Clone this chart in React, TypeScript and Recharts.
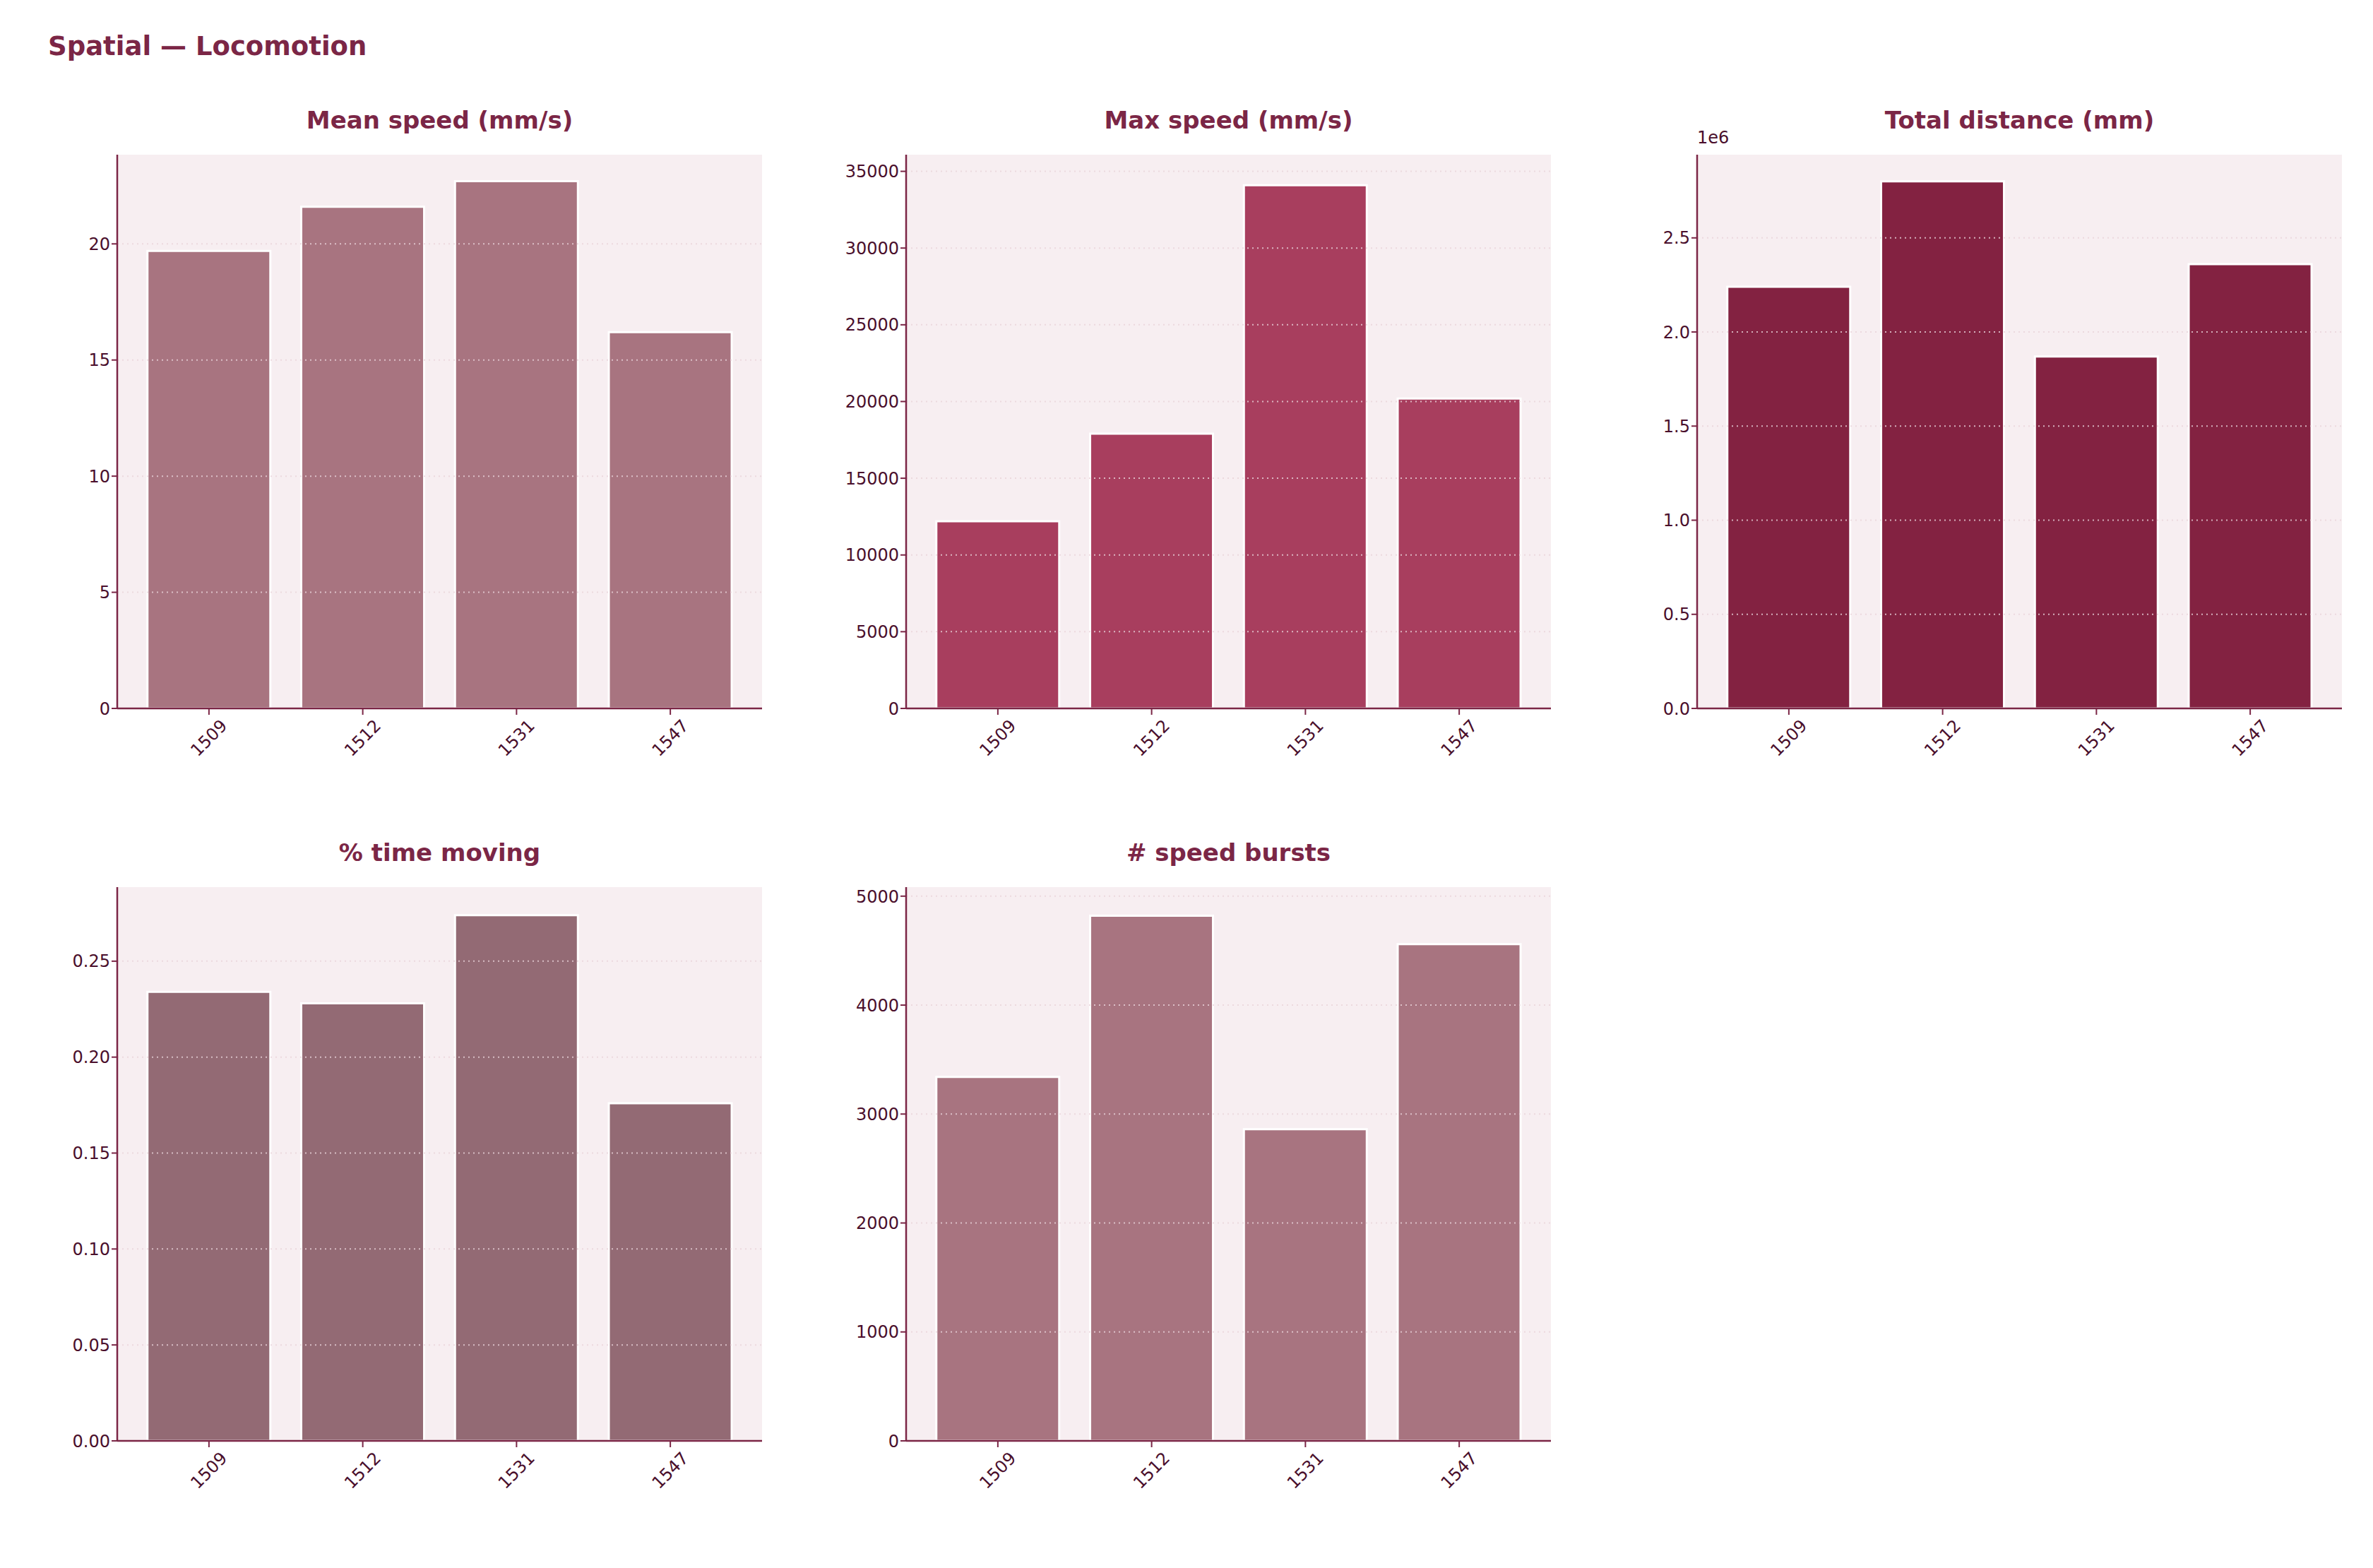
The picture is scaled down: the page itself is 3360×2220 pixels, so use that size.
import React from "react";
import { BarChart, Bar, XAxis, YAxis, CartesianGrid, ReferenceLine } from "recharts";

const categories = ["1509", "1512", "1531", "1547"];
const meanSpeed = [19.7, 21.6, 22.7, 16.2];
const maxSpeed = [12200, 17900, 34100, 20200];
const totalDistance = [2.24, 2.8, 1.87, 2.36]; // x1e6
const timeMoving = [0.234, 0.228, 0.274, 0.176];
const speedBursts = [3340, 4820, 2860, 4560];

const meanTicks = [0, 5, 10, 15, 20];
const maxTicks = [0, 5000, 10000, 15000, 20000, 25000, 30000, 35000];
const distTicks = [0, 0.5, 1.0, 1.5, 2.0, 2.5];
const timeTicks = [0, 0.05, 0.1, 0.15, 0.2, 0.25];
const burstTicks = [0, 1000, 2000, 3000, 4000, 5000];

const FONT = "'DejaVu Sans', sans-serif";
const TITLE = "#7b2646";
const TEXT = "#4a0f2c";
const BG = "#f7eef1";

type P = {
  title: string; values: number[]; ticks: number[]; max: number; color: string;
  left: number; top: number; fmt: (v: number) => string; offsetText?: string;
};

const YW = 130;
const PW = 913;
const PH = 784;

const XTick = (props: any) => {
  const { x, y, payload } = props;
  return (
    <g>
      <line x1={x} x2={x} y1={y - 8} y2={y + 1} stroke={TITLE} strokeWidth={2} />
      <text x={x} y={y + 42} textAnchor="middle" fill={TEXT} fontSize={24} fontFamily={FONT}
        transform={`rotate(-45 ${x} ${y + 34})`}>{payload.value}</text>
    </g>
  );
};

function Panel({ title, values, ticks, max, color, left, top, fmt, offsetText }: P) {
  const data = categories.map((c, i) => ({ c, v: values[i] }));
  return (
    <div style={{ position: "absolute", left: left - YW, top: top - 60 }}>
      <div style={{ position: "absolute", left: YW, width: PW, top: 0, textAlign: "center",
        fontFamily: FONT, fontWeight: "bold", fontSize: 34, color: TITLE, lineHeight: "34px", marginTop: -6 }}>{title}</div>
      {offsetText && (
        <div style={{ position: "absolute", left: YW, top: 22, fontFamily: FONT, fontSize: 24, color: TEXT }}>{offsetText}</div>
      )}
      <div style={{ position: "absolute", top: 60 }}>
        <BarChart width={YW + PW + 4} height={PH + 150} data={data}
          margin={{ top: 0, right: 4, left: 0, bottom: 0 }} barCategoryGap="10%">
          <CartesianGrid fill={BG} stroke="none" vertical={false} horizontal={false} />
          <XAxis dataKey="c" height={150} padding={{ left: 21, right: 21 }} tick={<XTick />}
            tickLine={false} axisLine={{ stroke: TITLE, strokeWidth: 2.5 }} interval={0} />
          <YAxis width={YW} domain={[0, max]} ticks={ticks} tickFormatter={fmt} allowDataOverflow
            tick={{ fill: TEXT, fontSize: 24, fontFamily: FONT }} tickSize={8}
            tickLine={{ stroke: TITLE, strokeWidth: 2 }} axisLine={{ stroke: TITLE, strokeWidth: 2.5 }} />
          <Bar dataKey="v" fill={color} stroke="#ffffff" strokeWidth={3} isAnimationActive={false} />
          {ticks.filter((t) => t > 0).map((t) => (
            <ReferenceLine key={t} y={t} stroke="#e9d3da" strokeOpacity={0.8} strokeWidth={2} strokeDasharray="2 5" />
          ))}
        </BarChart>
      </div>
    </div>
  );
}

export default function App() {
  return (
    <div style={{ position: "absolute", left: 0, top: 0, width: 3360, height: 2220, background: "#fff" }}>
      <div style={{ position: "absolute", left: 68, top: 44, fontFamily: FONT, fontWeight: "bold", fontSize: 37, color: TITLE }}>
        Spatial — Locomotion
      </div>
      <Panel title="Mean speed (mm/s)" values={meanSpeed} ticks={meanTicks} max={23.84} color="#a87480"
        left={166} top={219} fmt={(v) => String(v)} />
      <Panel title="Max speed (mm/s)" values={maxSpeed} ticks={maxTicks} max={36085} color="#a83e5e"
        left={1283} top={219} fmt={(v) => String(v)} />
      <Panel title="Total distance (mm)" values={totalDistance} ticks={distTicks} max={2.942} color="#832241"
        left={2403} top={219} fmt={(v) => v.toFixed(1)} offsetText="1e6" />
      <Panel title="% time moving" values={timeMoving} ticks={timeTicks} max={0.2886} color="#936a74"
        left={166} top={1256} fmt={(v) => v.toFixed(2)} />
      <Panel title="# speed bursts" values={speedBursts} ticks={burstTicks} max={5083} color="#a87480"
        left={1283} top={1256} fmt={(v) => String(v)} />
    </div>
  );
}
